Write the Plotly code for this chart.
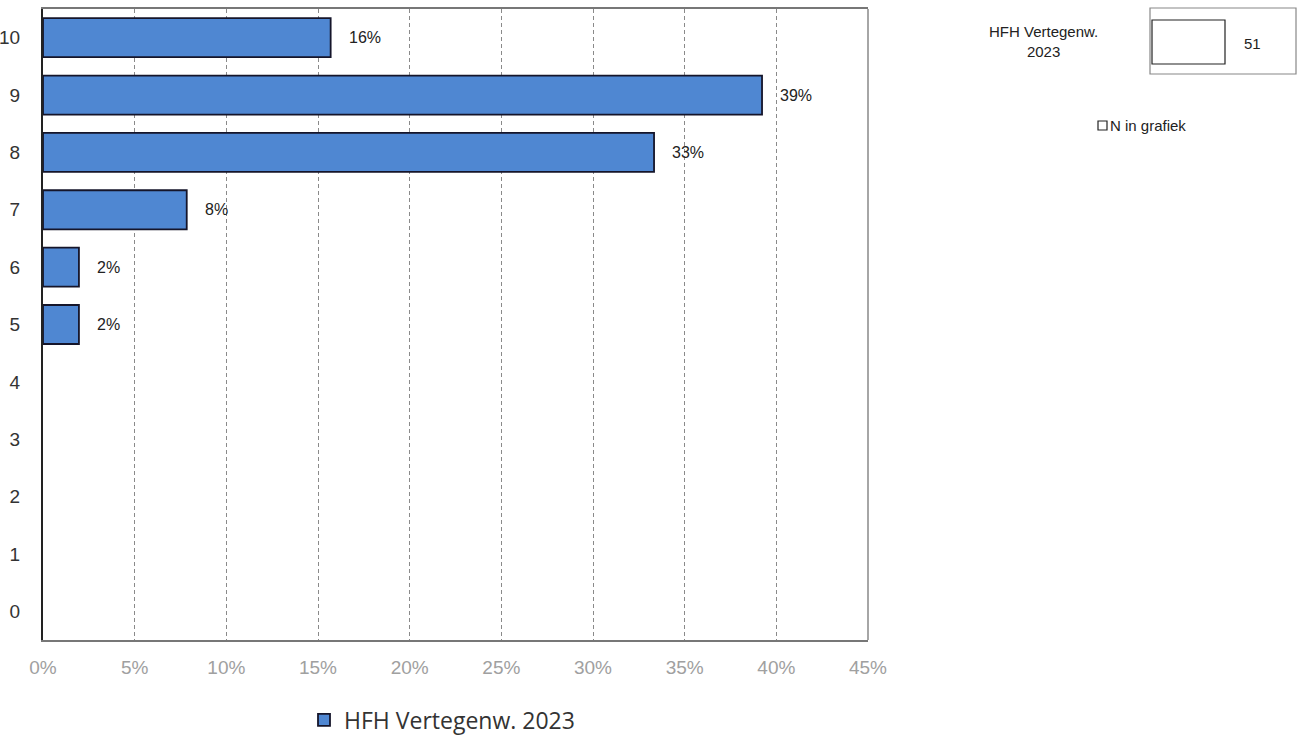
import plotly.graph_objects as go

categories = [0, 1, 2, 3, 4, 5, 6, 7, 8, 9, 10]
values = [0, 0, 0, 0, 0, 0.0196, 0.0196, 0.0784, 0.3333, 0.3922, 0.1569]
labels = ["", "", "", "", "", "2%", "2%", "8%", "33%", "39%", "16%"]
series_name = "HFH Vertegenw. 2023"
n_value = "51"
x_ticks = [0, 0.05, 0.10, 0.15, 0.20, 0.25, 0.30, 0.35, 0.40, 0.45]

W, H = 1298, 735
L, R, T, B = 43, 430, 9, 95
pw, ph = W - L - R, H - T - B

def px(x):
    return (x - L) / pw

def py(y):
    return (H - B - y) / ph

fig = go.Figure()
plot_cats = [c for c, v in zip(categories, values) if v > 0]
plot_vals = [v for v in values if v > 0]
fig.add_trace(go.Bar(
    y=plot_cats, x=plot_vals, orientation="h", name=series_name,
    marker=dict(color="#4F87D2", line=dict(color="#15152a", width=1.8)),
    width=0.68, showlegend=True,
))

annotations = []
for c, v, t in zip(categories, values, labels):
    if t:
        annotations.append(dict(x=v, y=c, xref="x", yref="y", text=t, showarrow=False,
                                xanchor="left", xshift=16,
                                font=dict(family="Liberation Sans, Arial", size=16, color="#222")))

annotations += [
    dict(x=px(1043), y=py(41), xref="paper", yref="paper", text="HFH Vertegenw.<br>2023",
         showarrow=False, align="center", xanchor="center", yanchor="middle",
         font=dict(family="Liberation Sans, Arial", size=15, color="#222")),
    dict(x=px(1252), y=py(43), xref="paper", yref="paper", text=n_value, showarrow=False,
         xanchor="center", yanchor="middle",
         font=dict(family="Liberation Sans, Arial", size=15, color="#222")),
    dict(x=px(1108), y=py(125), xref="paper", yref="paper", text="N in grafiek", showarrow=False,
         xanchor="left", yanchor="middle",
         font=dict(family="Liberation Sans, Arial", size=15, color="#222")),
]

shapes = [
    dict(type="line", xref="paper", yref="paper", x0=1, x1=1, y0=0, y1=1,
         line=dict(color="#888", width=1.5)),
    dict(type="rect", xref="paper", yref="paper", x0=px(1150), x1=px(1296), y0=py(74), y1=py(8),
         line=dict(color="#888", width=1.2)),
    dict(type="rect", xref="paper", yref="paper", x0=px(1152), x1=px(1225), y0=py(64), y1=py(20),
         line=dict(color="#222", width=1.2), fillcolor="white"),
    dict(type="rect", xref="paper", yref="paper", x0=px(1098), x1=px(1107), y0=py(130), y1=py(121),
         line=dict(color="#222", width=1.2), fillcolor="white"),
]

fig.update_layout(
    width=W, height=H,
    margin=dict(l=L, r=R, t=T, b=B, autoexpand=False),
    paper_bgcolor="white", plot_bgcolor="white",
    annotations=annotations,
    shapes=shapes,
    font=dict(family="Liberation Sans, Arial"),
    legend=dict(orientation="h", xref="container", yref="container",
                x=304 / W, y=(H - 720) / H, xanchor="left", yanchor="middle",
                font=dict(family="Open Sans, Liberation Sans", size=23, color="#333"),
                itemwidth=30),
    xaxis=dict(range=[0, 0.45], tickvals=x_ticks, tickformat=".0%", automargin=False,
               showgrid=True, gridcolor="#8a8a8a", griddash="4px,3px", gridwidth=1,
               showline=True, linecolor="#777", linewidth=1.5, mirror=True,
               zeroline=False, ticks="", ticklabelstandoff=9,
               tickfont=dict(family="Liberation Sans, Arial", size=19, color="#a0a0a0")),
    yaxis=dict(range=[-0.5, 10.5], tickvals=categories, ticktext=[str(c) for c in categories],
               showgrid=False, zeroline=False, automargin=False,
               showline=True, linecolor="#222", linewidth=2,
               ticks="", ticklabelstandoff=17,
               tickfont=dict(family="Liberation Sans, Arial", size=19, color="#333")),
)

fig.write_html("out.html", post_script="document.body.style.margin='0';",
               config={"displayModeBar": False})
